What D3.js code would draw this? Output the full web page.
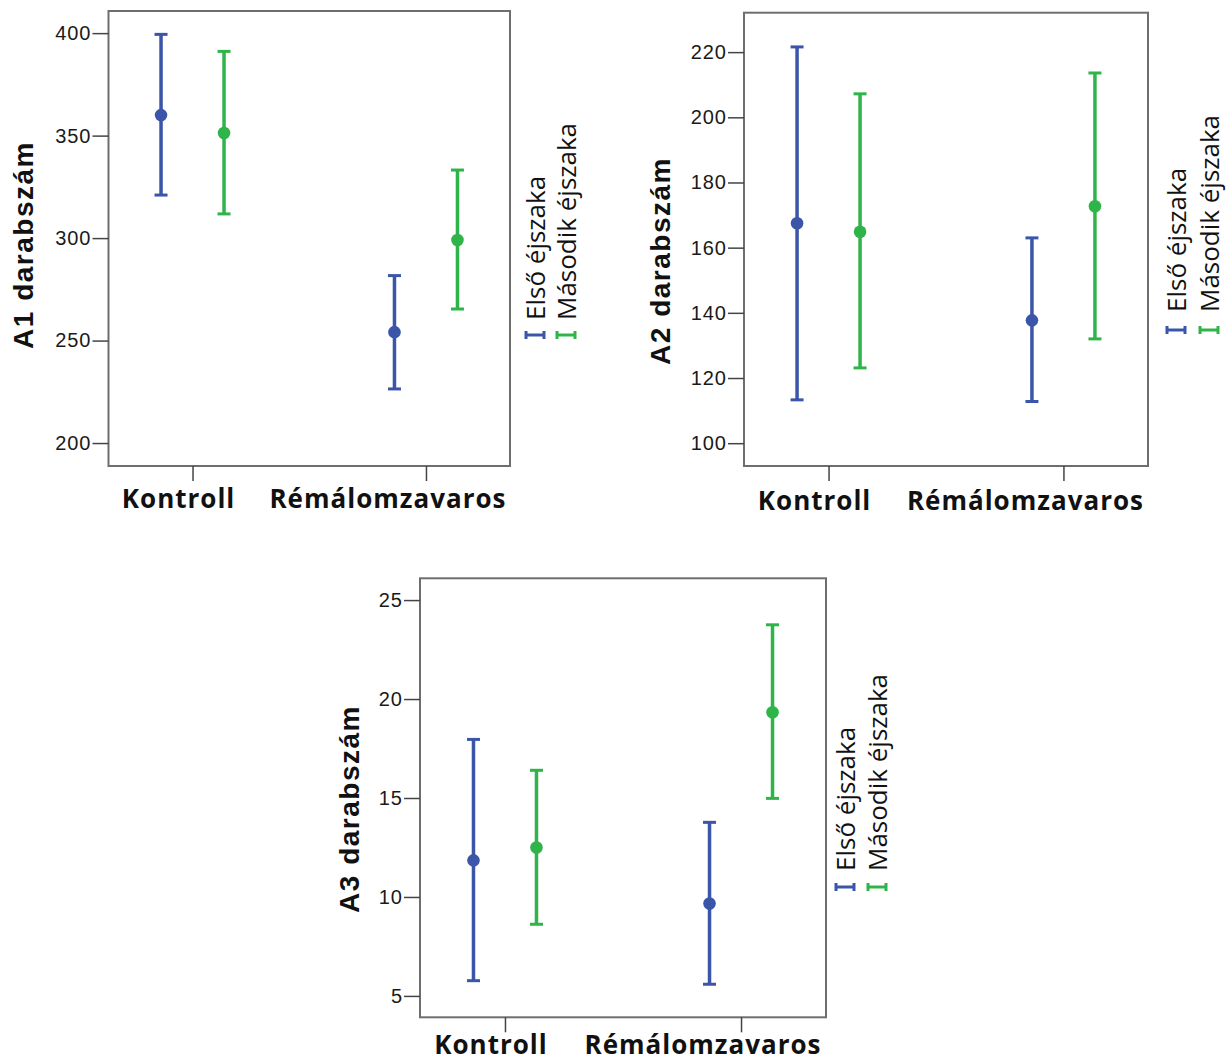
<!DOCTYPE html>
<html><head><meta charset="utf-8">
<script src="https://cdn.jsdelivr.net/npm/d3@7"></script>
<style>body{margin:0;background:#fff}svg{display:block}</style></head>
<body>
<script>
const categories = ["Kontroll", "Rémálomzavaros"];
const series = ["Első éjszaka", "Második éjszaka"];
const seriesColors = ["#3b55a8", "#2fb449"];

// [category][series]
const a1Mean  = [[360.0, 351.3], [254.1, 299.1]];
const a1Lower = [[321.0, 311.8], [226.4, 265.4]];
const a1Upper = [[399.4, 391.1], [281.7, 333.2]];
const a1Ticks = [200, 250, 300, 350, 400];

const a2Mean  = [[167.5, 164.9], [137.7, 172.7]];
const a2Lower = [[113.3, 123.1], [112.8, 132.0]];
const a2Upper = [[221.6, 207.2], [163.0, 213.6]];
const a2Ticks = [100, 120, 140, 160, 180, 200, 220];

const a3Mean  = [[11.85, 12.5], [9.67, 19.33]];
const a3Lower = [[5.77, 8.62], [5.59, 14.98]];
const a3Upper = [[17.96, 16.4], [13.77, 23.75]];
const a3Ticks = [5, 10, 15, 20, 25];

const titles = ["A1 darabszám", "A2 darabszám", "A3 darabszám"];

const panels = [
  {title: titles[0], mean: a1Mean, lower: a1Lower, upper: a1Upper, ticks: a1Ticks,
   domain: [188.8, 410.8], box: {x0: 108.5, x1: 510, y0: 11, y1: 466},
   titlePos: [33, 245], legend: {x: [545, 576], textY: 320, markY: 335}, labelDy: 42},
  {title: titles[1], mean: a2Mean, lower: a2Lower, upper: a2Upper, ticks: a2Ticks,
   domain: [93, 232.1], box: {x0: 744, x1: 1148, y0: 12.7, y1: 466},
   titlePos: [670, 261], legend: {x: [1186, 1219], textY: 312, markY: 330}, labelDy: 44},
  {title: titles[2], mean: a3Mean, lower: a3Lower, upper: a3Upper, ticks: a3Ticks,
   domain: [3.92, 26.1], box: {x0: 420, x1: 826, y0: 578.3, y1: 1017.3},
   titlePos: [359, 809], legend: {x: [855, 887], textY: 871, markY: 887}, labelDy: 37}
];

const labelDx = [-14, -38];

const svg = d3.select("body").append("svg").attr("width", 1228).attr("height", 1063);

panels.forEach(p => {
  const b = p.box;
  const g = svg.append("g");
  const x = d3.scalePoint().domain(categories).range([b.x0, b.x1]).padding(0.36);
  const s = d3.scalePoint().domain(series).range([-31.5, 31.5]);
  const y = d3.scaleLinear().domain(p.domain).range([b.y1, b.y0]);

  g.append("rect").attr("x", b.x0).attr("y", b.y0)
    .attr("width", b.x1 - b.x0).attr("height", b.y1 - b.y0)
    .attr("fill", "none").attr("stroke", "#6e6e6e").attr("stroke-width", 2);

  const ya = g.append("g").attr("transform", `translate(${b.x0},0)`)
    .call(d3.axisLeft(y).tickValues(p.ticks).tickSize(16).tickPadding(1).tickFormat(d3.format("d")));
  ya.select(".domain").remove();
  ya.selectAll(".tick line").attr("stroke", "#444").attr("stroke-width", 1.5);
  ya.selectAll(".tick text").attr("font-family", "'Liberation Sans', Arial, sans-serif")
    .attr("font-size", 20).attr("letter-spacing", "1px").attr("fill", "#1a1a1a");

  const xa = g.append("g").attr("transform", `translate(0,${b.y1})`)
    .call(d3.axisBottom(x).tickSize(15).tickFormat(""));
  xa.select(".domain").remove();
  xa.selectAll(".tick line").attr("stroke", "#444").attr("stroke-width", 1.5);

  categories.forEach((c, i) => {
    g.append("text").attr("x", x(c) + labelDx[i]).attr("y", b.y1 + p.labelDy)
      .attr("text-anchor", "middle")
      .attr("font-family", "'Open Sans', sans-serif").attr("font-weight", 700)
      .attr("font-size", 26).attr("letter-spacing", "1px").attr("fill", "#111")
      .text(c);
  });

  g.append("text").attr("transform", `translate(${p.titlePos[0]},${p.titlePos[1]}) rotate(-90)`)
    .attr("text-anchor", "middle")
    .attr("font-family", "'Liberation Sans', Arial, sans-serif").attr("font-weight", 700)
    .attr("font-size", 28).attr("letter-spacing", "1.5px").attr("fill", "#111")
    .text(p.title);

  categories.forEach((c, i) => {
    series.forEach((sr, j) => {
      const cx = x(c) + s(sr);
      const col = seriesColors[j];
      const yl = y(p.lower[i][j]), yu = y(p.upper[i][j]);
      g.append("line").attr("x1", cx).attr("x2", cx).attr("y1", yl).attr("y2", yu)
        .attr("stroke", col).attr("stroke-width", 3.5);
      [yl, yu].forEach(yy => {
        g.append("line").attr("x1", cx - 6.5).attr("x2", cx + 6.5).attr("y1", yy).attr("y2", yy)
          .attr("stroke", col).attr("stroke-width", 3);
      });
      g.append("circle").attr("cx", cx).attr("cy", y(p.mean[i][j])).attr("r", 6.3).attr("fill", col);
    });
  });

  series.forEach((sr, j) => {
    const col = seriesColors[j];
    const mx = p.legend.x[j] - 10, my = p.legend.markY;
    g.append("line").attr("x1", mx - 9).attr("x2", mx + 9).attr("y1", my).attr("y2", my)
      .attr("stroke", col).attr("stroke-width", 3);
    [mx - 9, mx + 9].forEach(xx => {
      g.append("line").attr("x1", xx).attr("x2", xx).attr("y1", my - 4).attr("y2", my + 4)
        .attr("stroke", col).attr("stroke-width", 3);
    });
    g.append("text").attr("transform", `translate(${p.legend.x[j]},${p.legend.textY}) rotate(-90)`)
      .attr("text-anchor", "start")
      .attr("font-family", "'Open Sans', sans-serif").attr("font-size", 26)
      .attr("fill", "#111").text(sr);
  });
});
</script>
</body></html>
